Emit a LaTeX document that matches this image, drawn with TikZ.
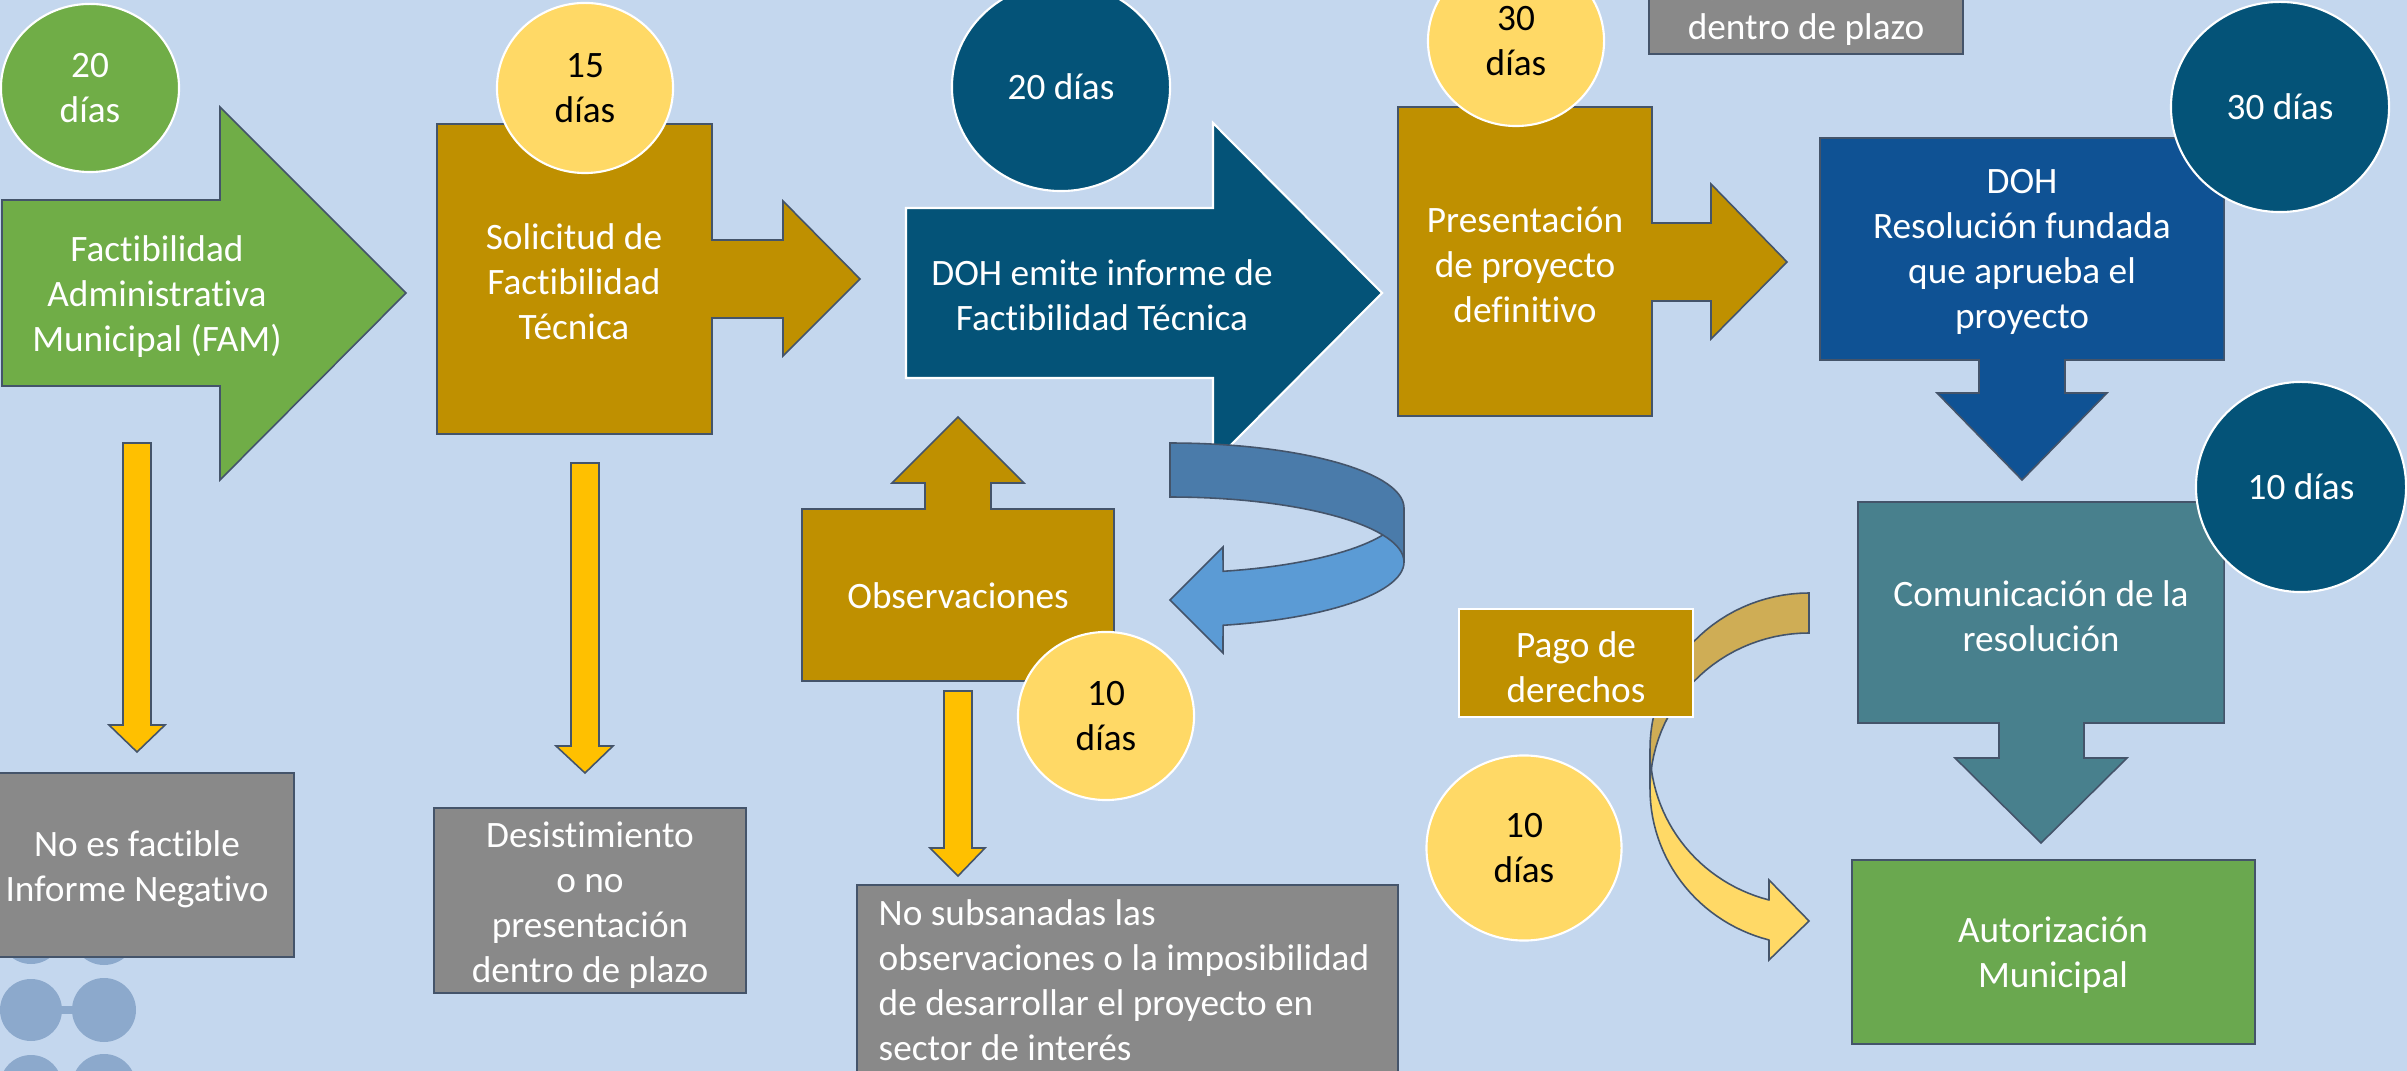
\documentclass[tikz,border=0pt]{standalone}
\usepackage{fontspec}
\setmainfont{Carlito}[Ligatures=NoCommon]
\usetikzlibrary{shapes.geometric}
\definecolor{bgblue}{HTML}{C4D7EE}
\definecolor{blobc}{HTML}{8CA9CC}
\definecolor{edgec}{HTML}{44546A}
\definecolor{famgreen}{HTML}{70AD47}
\definecolor{autgreen}{HTML}{6AA84F}
\definecolor{gold}{HTML}{BF9000}
\definecolor{ylight}{HTML}{FFD966}
\definecolor{yarrow}{HTML}{FFC000}
\definecolor{dohdark}{HTML}{045378}
\definecolor{resblue}{HTML}{0F5294}
\definecolor{comteal}{HTML}{48808D}
\definecolor{grayb}{HTML}{898989}
\definecolor{cblueback}{HTML}{4A7BAA}
\definecolor{cbluefront}{HTML}{5B9BD5}
\definecolor{cgoldback}{HTML}{CFAD55}
\tikzset{
  shp/.style={draw=edgec, line width=0.45pt, line join=miter},
  wtxt/.style={text=white, align=center, font=\fontsize{10.6}{12.8}\selectfont, inner sep=0pt},
  daycirc/.style={ellipse, draw=white, line width=0.6pt, inner sep=0pt, align=center, font=\fontsize{10.6}{12.8}\selectfont},
  graybox/.style={shp, fill=grayb},
  yarr/.style={shp, fill=yarrow},
}
\begin{document}
\begin{tikzpicture}[x=0.01cm,y=-0.01cm]
\useasboundingbox (0,0) rectangle (2407,1071);
\clip (0,0) rectangle (2407,1071);
\fill[bgblue] (0,0) rectangle (2407,1071);
% decorative blobs
\foreach \yy in {933,1010,1086}{
  \fill[blobc] (31,\yy) circle[radius=31];
  \fill[blobc] (104,\yy) circle[radius=32];
  \fill[blobc] (58,\yy-4) rectangle (76,\yy+4);
}
% top gray box (mostly outside)
\draw[graybox] (1649,-131) rectangle (1963,54);
\node[wtxt] (tDesTop) at (1806,-38) {Desistimiento\\o no\\presentación\\dentro de plazo};

% FAM arrow
\draw[shp, fill=famgreen] (2,200) -- (220,200) -- (220,107) -- (406,293) -- (220,480) -- (220,386) -- (2,386) -- cycle;
\node[wtxt] (tFAM) at (157,297) {Factibilidad\\Administrativa\\Municipal (FAM)};
\node[daycirc, fill=famgreen, text=white, minimum width=1.78cm, minimum height=1.68cm] (d20a) at (90,88) {20\\días};

% Solicitud
\draw[shp, fill=gold] (437,124) -- (712,124) -- (712,240) -- (783,240) -- (783,201) -- (860,279) -- (783,356) -- (783,318) -- (712,318) -- (712,434) -- (437,434) -- cycle;
\node[wtxt] (tSol) at (574,282) {Solicitud de\\Factibilidad\\Técnica};
\node[daycirc, fill=ylight, text=black, minimum width=1.76cm, minimum height=1.70cm] (d15) at (585,88) {15\\días};

% DOH emite
\draw[draw=white, line width=0.6pt, fill=dohdark] (906,208) -- (1213,208) -- (1213,123) -- (1382,293) -- (1213,463) -- (1213,378) -- (906,378) -- cycle;
\node[wtxt] (tDOH) at (1102,295) {DOH emite informe de\\Factibilidad Técnica};
\node[daycirc, fill=dohdark, text=white, minimum width=2.18cm, minimum height=2.08cm] (d20b) at (1061,87) {20 días};

% Observaciones
\draw[shp, fill=gold] (802,509) -- (925,509) -- (925,483) -- (892,483) -- (958,417) -- (1024,483) -- (991,483) -- (991,509) -- (1114,509) -- (1114,681) -- (802,681) -- cycle;
\node[wtxt] (tObs) at (958,596) {Observaciones};
\node[daycirc, fill=ylight, text=black, minimum width=1.76cm, minimum height=1.68cm] (d10a) at (1106,716) {10\\días};

% blue curved arrow: front then back
\draw[shp, fill=cbluefront] (1404,508) -- plot[domain=0:76.9, samples=30, variable=\t] ({1170+234*cos(\t)},{508+65*sin(\t)}) -- (1223,547) -- (1170,600) -- (1223,653) -- plot[domain=76.9:0, samples=30, variable=\t] ({1170+234*cos(\t)},{562+65*sin(\t)}) -- cycle;
\draw[shp, fill=cblueback] (1170,443) -- plot[domain=-90:0, samples=30, variable=\t] ({1170+234*cos(\t)},{508+65*sin(\t)}) -- (1404,562) -- plot[domain=0:-90, samples=30, variable=\t] ({1170+234*cos(\t)},{562+65*sin(\t)}) -- cycle;

% Presentacion
\draw[shp, fill=gold] (1398,107) -- (1652,107) -- (1652,223) -- (1711,223) -- (1711,184) -- (1787,262) -- (1711,339) -- (1711,301) -- (1652,301) -- (1652,416) -- (1398,416) -- cycle;
\node[wtxt] (tPre) at (1525,265) {Presentación\\de proyecto\\definitivo};
\node[daycirc, fill=ylight, text=black, minimum width=1.76cm, minimum height=1.70cm] (d30a) at (1516,41) {30\\días};

% DOH resolucion
\draw[shp, fill=resblue] (1820,138) -- (2224,138) -- (2224,360) -- (2065,360) -- (2065,393) -- (2107,393) -- (2022,480) -- (1937,393) -- (1979,393) -- (1979,360) -- (1820,360) -- cycle;
\node[wtxt] (tRes) at (2022,252) {DOH\\Resolución fundada\\que aprueba el\\proyecto};
\node[daycirc, fill=dohdark, text=white, minimum width=2.18cm, minimum height=2.10cm] (d30b) at (2280,107) {30 días};

% Comunicacion
\draw[shp, fill=comteal] (1858,502) -- (2224,502) -- (2224,723) -- (2084,723) -- (2084,758) -- (2127,758) -- (2041,843) -- (1955,758) -- (1999,758) -- (1999,723) -- (1858,723) -- cycle;
\node[wtxt] (tCom) at (2041,616) {Comunicación de la\\resolución};
\node[daycirc, fill=dohdark, text=white, minimum width=2.10cm, minimum height=2.10cm] (d10b) at (2301,487) {10 días};

% Autorizacion
\draw[shp, fill=autgreen] (1852,860) rectangle (2255,1044);
\node[wtxt] (tAut) at (2053,955) {Autorización\\Municipal};

% gold curved arrow: front then back
\draw[shp, fill=ylight] (1650,749) -- plot[domain=180:104.6, samples=30, variable=\t] ({1809+159*cos(\t)},{749+156*sin(\t)}) -- (1769,880) -- (1809,921) -- (1769,960) -- plot[domain=104.6:180, samples=30, variable=\t] ({1809+159*cos(\t)},{789+156*sin(\t)}) -- cycle;
\draw[shp, fill=cgoldback] (1809,593) -- plot[domain=270:180, samples=30, variable=\t] ({1809+159*cos(\t)},{749+156*sin(\t)}) -- (1650,789) -- plot[domain=180:270, samples=30, variable=\t] ({1809+159*cos(\t)},{789+156*sin(\t)}) -- cycle;

% Pago de derechos
\draw[draw=white, line width=0.6pt, fill=gold] (1459,609) rectangle (1693,717);
\node[wtxt] (tPago) at (1576,667) {Pago de\\derechos};
\node[daycirc, fill=ylight, text=black, minimum width=1.95cm, minimum height=1.85cm] (d10c) at (1524,848) {10\\días};

% yellow arrows
\draw[yarr] (123,443) -- (151,443) -- (151,725) -- (165,725) -- (137,752) -- (109,725) -- (123,725) -- cycle;
\draw[yarr] (571,463) -- (599,463) -- (599,746) -- (613,746) -- (585,773) -- (556,746) -- (571,746) -- cycle;
\draw[yarr] (944,691) -- (972,691) -- (972,848) -- (985,848) -- (958,876) -- (930,848) -- (944,848) -- cycle;

% gray boxes
\draw[graybox] (-2,773) rectangle (294,957);
\node[wtxt] (tNo) at (137,869) {No es factible\\Informe Negativo};
\draw[graybox] (434,808) rectangle (746,993);
\node[wtxt] (tDes) at (590,905) {Desistimiento\\o no\\presentación\\dentro de plazo};
\draw[graybox] (857,885) rectangle (1398,1090);
\node[wtxt, align=left, anchor=west] (tSub) at (878,980) {No subsanadas las\\observaciones o la imposibilidad\\de desarrollar el proyecto en\\sector de interés};
\end{tikzpicture}
\end{document}
